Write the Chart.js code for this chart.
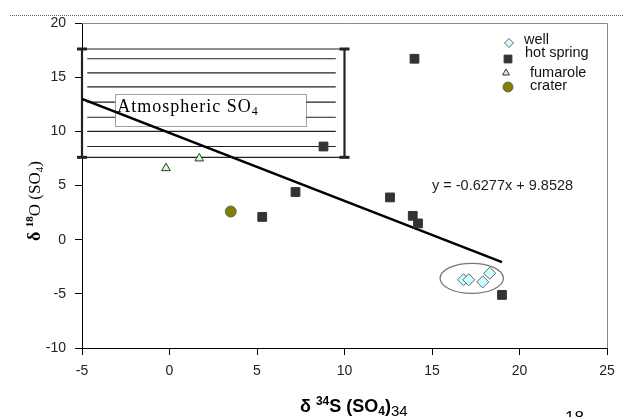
<!DOCTYPE html>
<html>
<head>
<meta charset="utf-8">
<script src="https://cdn.jsdelivr.net/npm/chart.js@4.4.1/dist/chart.umd.min.js"></script>
<style>
  html, body { margin: 0; padding: 0; background: #fff; }
  #wrap { position: relative; width: 624px; height: 417px; }
</style>
</head>
<body>
<div id="wrap"><canvas id="chart"></canvas></div>
<script>
// axis ticks
const xTicks = [-5, 0, 5, 10, 15, 20, 25];
const yTicks = [-10, -5, 0, 5, 10, 15, 20];

// samples
const wellX = [16.8, 17.1, 17.9, 18.3];
const wellY = [-3.7, -3.7, -3.9, -3.1];
const springX = [14.0, 8.8, 7.2, 5.3, 12.6, 13.9, 14.2, 19.0];
const springY = [16.7, 8.6, 4.4, 2.1, 3.9, 2.2, 1.5, -5.1];
const fumaroleX = [-0.2, 1.7];
const fumaroleY = [6.6, 7.5];
const craterX = [3.5];
const craterY = [2.6];

// regression line y = -0.6277x + 9.8528, end points
const trendX = [-5, 19];
const trendY = [12.99, -2.07];
const trendText = 'y = -0.6277x + 9.8528';

// atmospheric SO4 field
const atmosX = [-5, 10];
const atmosY = [7.6, 17.6];
const hatchX = [-4.7, 9.5];
const hatchY = [8.6, 10.0, 11.3, 12.7, 14.1, 15.4, 16.7];

const toPoints = (xs, ys) => xs.map((x, i) => ({ x, y: ys[i] }));
const INK = '#222';

const boxLine = (points, width, caps) => ({
  type: 'line',
  data: points,
  borderColor: INK,
  borderWidth: width,
  pointStyle: 'line',
  pointRadius: caps ? 5 : 0,
  pointBorderWidth: 3,
  pointBorderColor: INK,
  fill: false,
  clip: false,
  order: 5
});

const datasets = [
  {
    label: 'well',
    data: toPoints(wellX, wellY),
    pointStyle: 'rectRot',
    pointRadius: 6,
    backgroundColor: '#ccffff',
    borderColor: '#666',
    borderWidth: 1,
    order: 1
  },
  {
    label: 'hot spring',
    data: toPoints(springX, springY),
    pointStyle: 'rect',
    pointRadius: 6.2,
    backgroundColor: '#333',
    borderColor: '#333',
    borderWidth: 1,
    order: 1
  },
  {
    label: 'fumarole',
    data: toPoints(fumaroleX, fumaroleY),
    pointStyle: 'triangle',
    pointRadius: 5,
    backgroundColor: '#ccffcc',
    borderColor: '#333',
    borderWidth: 1,
    order: 1
  },
  {
    label: 'crater',
    data: toPoints(craterX, craterY),
    pointStyle: 'circle',
    pointRadius: 5.5,
    backgroundColor: '#808000',
    borderColor: '#666',
    borderWidth: 1,
    order: 1
  },
  {
    label: 'trend',
    type: 'line',
    data: toPoints(trendX, trendY),
    borderColor: '#000',
    borderWidth: 2.5,
    pointRadius: 0,
    fill: false,
    order: 2
  },
  boxLine(toPoints([atmosX[0], atmosX[0]], atmosY), 2.2, true),
  boxLine(toPoints([atmosX[1], atmosX[1]], atmosY), 2.2, true),
  boxLine(toPoints(atmosX, [atmosY[0], atmosY[0]]), 1.2, false),
  boxLine(toPoints(atmosX, [atmosY[1], atmosY[1]]), 1.2, false),
  ...hatchY.map((y) => boxLine(toPoints(hatchX, [y, y]), 1.2, false))
];

const legendRows = [
  { label: 'well', sx: 509, sy: 43, tx: 524, ty: 40, r: 4.5 },
  { label: 'hot spring', sx: 508, sy: 59, tx: 525, ty: 53, r: 5.5 },
  { label: 'fumarole', sx: 506, sy: 73, tx: 530, ty: 73, r: 4 },
  { label: 'crater', sx: 508, sy: 87, tx: 530, ty: 86, r: 5 }
];

function drawRich(ctx, parts, x, y) {
  let cx = x;
  parts.forEach(([text, font, dy]) => {
    ctx.font = font;
    ctx.fillText(text, cx, y + dy);
    cx += ctx.measureText(text).width;
  });
}

const decorations = {
  id: 'decorations',
  beforeDatasetsDraw(chart) {
    const { ctx, chartArea: a } = chart;
    ctx.save();
    // dotted rule at the very top
    ctx.strokeStyle = '#666';
    ctx.lineWidth = 1;
    ctx.setLineDash([1, 1]);
    ctx.beginPath();
    ctx.moveTo(10, 15.5);
    ctx.lineTo(624, 15.5);
    ctx.stroke();
    ctx.setLineDash([]);
    // grey frame on top and right
    ctx.strokeStyle = '#888';
    ctx.beginPath();
    ctx.moveTo(a.left, a.top + 0.5);
    ctx.lineTo(a.right + 0.5, a.top + 0.5);
    ctx.lineTo(a.right + 0.5, a.bottom);
    ctx.stroke();
    ctx.restore();
  },
  beforeDatasetDraw(chart, args) {
    if (chart.data.datasets[args.index].label !== 'trend') return;
    const { ctx, scales: { x, y } } = chart;
    const x0 = x.getPixelForValue(-3.1), x1 = x.getPixelForValue(7.8);
    const y0 = y.getPixelForValue(13.45), y1 = y.getPixelForValue(10.5);
    ctx.save();
    ctx.fillStyle = '#fff';
    ctx.fillRect(x0, y0, x1 - x0, y1 - y0);
    ctx.strokeStyle = '#444';
    ctx.lineWidth = 1;
    ctx.setLineDash([1, 1]);
    ctx.strokeRect(Math.round(x0) + 0.5, Math.round(y0) + 0.5, Math.round(x1 - x0), Math.round(y1 - y0));
    ctx.setLineDash([]);
    ctx.fillStyle = '#000';
    ctx.textBaseline = 'alphabetic';
    ctx.letterSpacing = '1px';
    drawRich(ctx, [
      ['Atmospheric SO', '18px "Liberation Serif"', 0],
      ['4', '12px "Liberation Serif"', 3]
    ], x0 + 2, y0 + 18);
    ctx.letterSpacing = '0px';
    ctx.restore();
  },
  afterDatasetsDraw(chart) {
    const { ctx, scales: { x, y } } = chart;
    ctx.save();
    // ellipse round the well samples
    const cx = x.getPixelForValue(17.27), cy = y.getPixelForValue(-3.57);
    const rx = x.getPixelForValue(17.27 + 1.81) - cx;
    const ry = cy - y.getPixelForValue(-3.57 + 1.39);
    ctx.strokeStyle = '#777';
    ctx.lineWidth = 1.3;
    ctx.beginPath();
    ctx.ellipse(cx, cy, rx, ry, 0, 0, Math.PI * 2);
    ctx.stroke();

    // equation
    ctx.fillStyle = '#222';
    ctx.font = '14.5px "Liberation Sans"';
    ctx.textBaseline = 'middle';
    ctx.fillText(trendText, 432, 186);

    // legend
    legendRows.forEach((row) => {
      const ds = chart.data.datasets.find((d) => d.label === row.label);
      ctx.fillStyle = ds.backgroundColor;
      ctx.strokeStyle = ds.borderColor;
      ctx.lineWidth = 1;
      Chart.helpers.drawPoint(ctx, { pointStyle: ds.pointStyle, radius: row.r, rotation: 0, borderWidth: 1 }, row.sx, row.sy);
      ctx.fillStyle = '#111';
      ctx.font = '14.5px "Liberation Sans"';
      ctx.fillText(row.label, row.tx, row.ty);
    });

    // axis titles
    ctx.fillStyle = '#000';
    ctx.textBaseline = 'alphabetic';
    ctx.save();
    ctx.translate(40, 241);
    ctx.rotate(-Math.PI / 2);
    drawRich(ctx, [
      ['δ ', 'bold 18px "Liberation Serif"', 0],
      ['18', 'bold 11px "Liberation Serif"', -7],
      ['O (SO', '17px "Liberation Serif"', 0],
      ['4', '11px "Liberation Serif"', 3],
      [')', '17px "Liberation Serif"', 0]
    ], 0, 0);
    ctx.restore();

    drawRich(ctx, [
      ['δ ', 'bold 18px "Liberation Sans"', 0],
      ['34', 'bold 12px "Liberation Sans"', -7],
      ['S (SO', 'bold 18px "Liberation Sans"', 0],
      ['4', 'bold 12px "Liberation Sans"', 3],
      [')', 'bold 18px "Liberation Sans"', 0],
      ['34', '15px "Liberation Sans"', 4]
    ], 300, 412);
    ctx.font = '17px "Liberation Sans"';
    ctx.fillText('18', 565, 423);
    ctx.restore();
  }
};

const tickFont = { family: 'Liberation Sans', size: 14 };

new Chart(document.getElementById('chart'), {
  type: 'scatter',
  data: { datasets },
  options: {
    responsive: true,
    maintainAspectRatio: false,
    animation: false,
    devicePixelRatio: 1,
    layout: { padding: { top: 23, right: 17, left: 0, bottom: 0 } },
    plugins: {
      legend: { display: false },
      tooltip: { enabled: false }
    },
    scales: {
      x: {
        type: 'linear',
        min: -5,
        max: 25,
        afterBuildTicks: (scale) => { scale.ticks = xTicks.map((value) => ({ value })); },
        afterFit: (scale) => { scale.height = 69; },
        ticks: { font: tickFont, color: '#222', padding: 8, maxRotation: 0 },
        grid: { drawOnChartArea: false, drawTicks: true, tickLength: 7, color: '#000' },
        border: { color: '#000', width: 1 }
      },
      y: {
        type: 'linear',
        min: -10,
        max: 20,
        afterBuildTicks: (scale) => { scale.ticks = yTicks.map((value) => ({ value })); },
        afterFit: (scale) => { scale.width = 82; },
        ticks: { font: tickFont, color: '#222', padding: 9 },
        grid: { drawOnChartArea: false, drawTicks: true, tickLength: 7, color: '#000' },
        border: { color: '#000', width: 1 }
      }
    }
  },
  plugins: [decorations]
});
</script>
</body>
</html>
